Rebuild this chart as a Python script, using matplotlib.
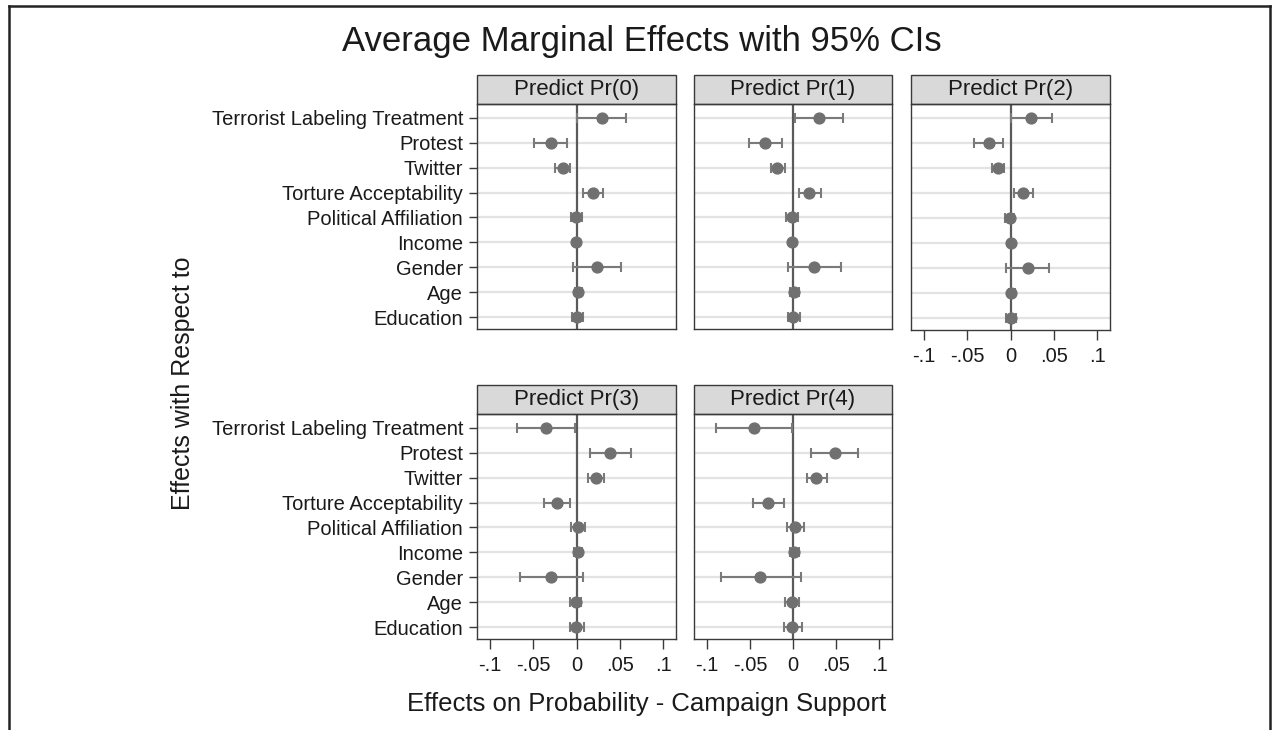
import numpy as np
import matplotlib
matplotlib.use("Agg")
import matplotlib.pyplot as plt
from matplotlib.patches import Rectangle
from matplotlib.lines import Line2D

plt.rcParams['font.family'] = ['Liberation Sans', 'DejaVu Sans']

#%%----- data -----------------------------------------------------------------
variables = ["Terrorist Labeling Treatment", "Protest", "Twitter",
             "Torture Acceptability", "Political Affiliation", "Income",
             "Gender", "Age", "Education"]

titles = ["Predict Pr(0)", "Predict Pr(1)", "Predict Pr(2)",
          "Predict Pr(3)", "Predict Pr(4)"]

est_0 = [0.0297, -0.030, -0.016, 0.019, -0.001, -0.001, 0.0235, 0.0015, 0.0008]
lo_0  = [0.000, -0.049, -0.025, 0.007, -0.0065, -0.002, -0.004, -0.002, -0.005]
hi_0  = [0.057, -0.011, -0.008, 0.031, 0.006, 0.000, 0.052, 0.006, 0.008]

est_1 = [0.030, -0.032, -0.0185, 0.019, -0.0015, -0.0008, 0.024, 0.001, 0.0003]
lo_1  = [0.0023, -0.051, -0.026, 0.007, -0.0077, -0.0018, -0.0062, -0.004, -0.006]
hi_1  = [0.058, -0.013, -0.0096, 0.032, 0.0054, 0.0002, 0.056, 0.0066, 0.0077]

est_2 = [0.0232, -0.025, -0.0143, 0.015, -0.001, 0.000, 0.0197, 0.0008, 0.0004]
lo_2  = [0.000, -0.0417, -0.021, 0.004, -0.006, -0.001, -0.005, -0.002, -0.005]
hi_2  = [0.048, -0.0081, -0.007, 0.026, 0.004, 0.001, 0.045, 0.005, 0.006]

est_3 = [-0.0355, 0.039, 0.0224, -0.023, 0.002, 0.0015, -0.0297, -0.0008, -0.0004]
lo_3  = [-0.069, 0.016, 0.0135, -0.037, -0.0058, -0.003, -0.0655, -0.007, -0.008]
hi_3  = [-0.002, 0.0625, 0.0316, -0.0077, 0.0104, 0.0065, 0.0077, 0.0054, 0.0085]

est_4 = [-0.045, 0.0485, 0.027, -0.029, 0.0023, 0.0012, -0.0385, -0.0015, -0.0008]
lo_4  = [-0.0896, 0.0212, 0.0158, -0.047, -0.0073, -0.004, -0.0835, -0.0088, -0.011]
hi_4  = [-0.0015, 0.076, 0.039, -0.010, 0.0127, 0.0073, 0.0088, 0.0065, 0.010]

xticks = [-0.1, -0.05, 0, 0.05, 0.1]
xticklabels = ["-.1", "-.05", "0", ".05", ".1"]

#%%----- figure ---------------------------------------------------------------
W, H = 1272, 730
fig = plt.figure(figsize=(W / 100, H / 100), dpi=100)

def px_axes(left, right, top, bottom):
    return fig.add_axes([left / W, 1 - bottom / H, (right - left) / W, (bottom - top) / H])

# panel boxes in pixels: left, right, top (below header), bottom
boxes = [(477, 676, 104, 329), (694, 892, 104, 329), (911, 1110, 104, 330),
         (477, 676, 414, 639), (694, 892, 414, 639)]
data = [(est_0, lo_0, hi_0), (est_1, lo_1, hi_1), (est_2, lo_2, hi_2),
        (est_3, lo_3, hi_3), (est_4, lo_4, hi_4)]
show_y = [True, False, False, True, False]
show_x = [False, False, True, True, True]

pos = np.arange(len(variables))
dark = '#3a3a3a'
pt_col = '#707070'

for k in range(5):
    l, r, t, b = boxes[k]
    ax = px_axes(l, r, t, b)
    est, lo, hi = data[k]
    est = np.array(est); lo = np.array(lo); hi = np.array(hi)
    for y in pos:
        ax.axhline(y, color='#e3e3e3', lw=1.6, zorder=0)
    ax.axvline(0, color='#5a5a5a', lw=1.6, zorder=1)
    ax.errorbar(est, pos, xerr=[est - lo, hi - est], fmt='o', color=pt_col,
                ecolor='#7a7a7a', elinewidth=1.5, capsize=3.4, capthick=1.5,
                markersize=7.8, zorder=3)
    ax.set_xlim(-0.115, 0.115)
    ax.set_ylim(8.48, -0.56)
    ax.set_yticks(pos)
    if show_y[k]:
        ax.set_yticklabels(variables, fontsize=14.5, color='#1a1a1a')
        ax.tick_params(axis='y', length=6, width=1, color=dark, pad=4)
    else:
        ax.set_yticklabels([])
        ax.tick_params(axis='y', length=0)
    ax.set_xticks(xticks)
    if show_x[k]:
        ax.set_xticklabels(xticklabels, fontsize=14.5, color='#1a1a1a')
        ax.tick_params(axis='x', length=7, width=1, color=dark, pad=5)
    else:
        ax.set_xticklabels([])
        ax.tick_params(axis='x', length=0)
    for s in ax.spines.values():
        s.set_color(dark)
        s.set_linewidth(1.0)
    # header strip
    hh = 29 / (b - t)
    ax.add_patch(Rectangle((0, 1), 1, hh, transform=ax.transAxes, clip_on=False,
                           facecolor='#d9d9d9', edgecolor=dark, lw=1.0))
    ax.text(0.5, 1 + hh / 2, titles[k], transform=ax.transAxes, ha='center',
            va='center', fontsize=16, color='#1a1a1a')

fig.text(642 / W, 1 - 42 / H, "Average Marginal Effects with 95% CIs",
         ha='center', va='center', fontsize=25, color='#1a1a1a')
fig.text(183 / W, 1 - 383 / H, "Effects with Respect to", rotation=90,
         ha='center', va='center', fontsize=18, color='#1a1a1a')
fig.text(647 / W, 1 - 704 / H, "Effects on Probability - Campaign Support",
         ha='center', va='center', fontsize=18.5, color='#1a1a1a')

# outer frame (left, top, right)
fr = dict(color='#222222', lw=1.8, transform=fig.transFigure)
fig.add_artist(Line2D([8.5 / W, 8.5 / W], [0, 1 - 6 / H], **fr))
fig.add_artist(Line2D([8.5 / W, 1269.5 / W], [1 - 6 / H, 1 - 6 / H], **fr))
fig.add_artist(Line2D([1269.5 / W, 1269.5 / W], [0, 1 - 6 / H], **fr))

fig.savefig("out.png", dpi=100)
